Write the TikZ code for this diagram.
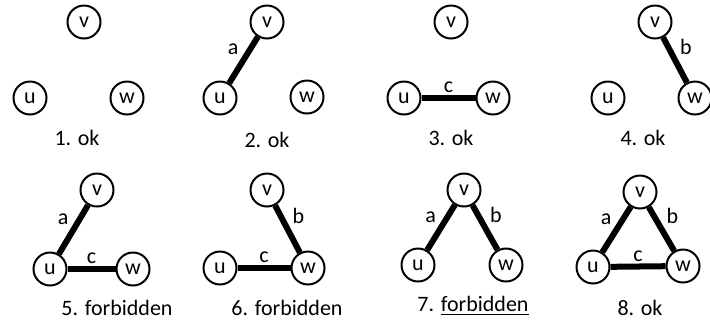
\documentclass[tikz,border=0pt]{standalone}
\usepackage{fontspec}
\setmainfont{Carlito}
\usepackage{tikz}
\usetikzlibrary{positioning}

\begin{document}
\begin{tikzpicture}[x=0.5pt, y=-0.5pt, font=\fontsize{11}{13}\selectfont]
    \tikzset{%
      vtx/.style={circle, draw, line width=1pt, minimum size=16.5pt, inner sep=0pt},
      edg/.style={line width=3pt},
      elab/.style={inner sep=1pt},
      capt/.style={anchor=center}
      }
    \useasboundingbox (0,0) rectangle (710,329);

    % 1
    \node [vtx] (V1) at (84,22) {v};
    \node [vtx] (U1) at (30,98) {u};
    \node [vtx] (W1) at (127,98) {w};
    \node [capt] (L1) at (77,138) {1. ok};

    % 2
    \node [vtx] (V2) at (267,22) {v};
    \node [vtx] (U2) at (220,98) {u};
    \node [vtx] (W2) at (307,97) {w};
    \node [capt] (L2) at (267,140) {2. ok};
    \draw [edg] (U2) -- node [elab, pos=0.5, above left] {a} (V2);

    % 3
    \node [vtx] (V3) at (451,22) {v};
    \node [vtx] (U3) at (404,98) {u};
    \node [vtx] (W3) at (493,98) {w};
    \node [capt] (L3) at (451,138) {3. ok};
    \draw [edg] (U3) -- node [elab, pos=0.5, above] {c} (W3);

    % 4
    \node [vtx] (V4) at (655,22) {v};
    \node [vtx] (U4) at (608,98) {u};
    \node [vtx] (W4) at (695,98) {w};
    \node [capt] (L4) at (643,138) {4. ok};
    \draw [edg] (V4) -- node [elab, pos=0.5, above right] {b} (W4);

    % 5
    \node [vtx] (V5) at (97,190) {v};
    \node [vtx] (U5) at (50,269) {u};
    \node [vtx] (W5) at (133,269) {w};
    \node [capt] (L5) at (117,308) {5. forbidden};
    \draw [edg] (U5) -- node [elab, pos=0.5, above left] {a} (V5);
    \draw [edg] (U5) -- node [elab, pos=0.5, above] {c} (W5);

    % 6
    \node [vtx] (V6) at (267,190) {v};
    \node [vtx] (U6) at (220,268) {u};
    \node [vtx] (W6) at (308,268) {w};
    \node [capt] (L6) at (287,308) {6. forbidden};
    \draw [edg] (V6) -- node [elab, pos=0.5, above right] {b} (W6);
    \draw [edg] (U6) -- node [elab, pos=0.5, above] {c} (W6);

    % 7
    \node [vtx] (V7) at (464,190) {v};
    \node [vtx] (U7) at (418,265) {u};
    \node [vtx] (W7) at (506,265) {w};
    \node [capt] (L7) at (473,306) {7. \underline{forbidden}};
    \draw [edg] (U7) -- node [elab, pos=0.5, above left] {a} (V7);
    \draw [edg] (V7) -- node [elab, pos=0.5, above right] {b} (W7);

    % 8
    \node [vtx] (V8) at (640,192) {v};
    \node [vtx] (U8) at (593,267) {u};
    \node [vtx] (W8) at (683,266) {w};
    \node [capt] (L8) at (640,308) {8. ok};
    \draw [edg] (U8) -- node [elab, pos=0.5, above left] {a} (V8);
    \draw [edg] (V8) -- node [elab, pos=0.5, above right] {b} (W8);
    \draw [edg] (U8) -- node [elab, pos=0.5, above] {c} (W8);

  \end{tikzpicture}
\end{document}
